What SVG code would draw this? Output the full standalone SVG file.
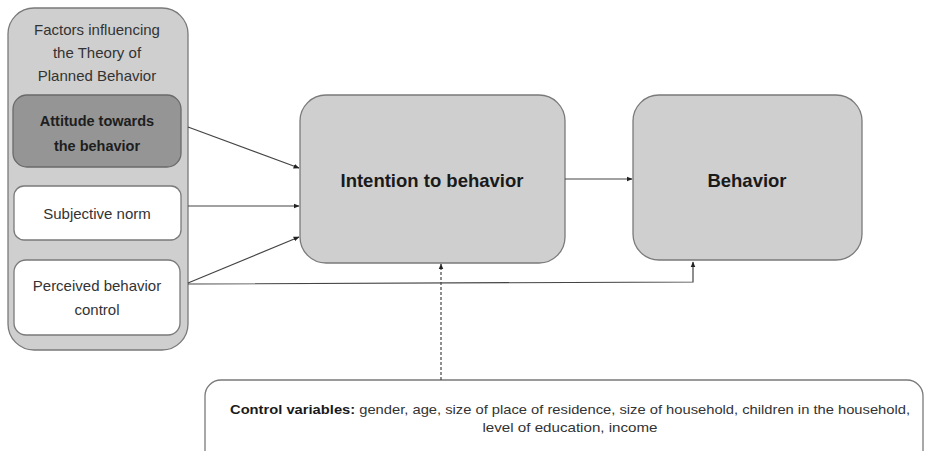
<svg xmlns="http://www.w3.org/2000/svg" width="925" height="451" viewBox="0 0 925 451">
<style>
text{font-family:"Liberation Sans",Arial,sans-serif;fill:#222;text-anchor:middle}
.lbl{font-size:15px;fill:#333}
.big{font-size:18.5px;font-weight:bold;fill:#1a1a1a}
.gray{fill:#cfcfcf;stroke:#7a7a7a;stroke-width:1.3}
.white{fill:#fff;stroke:#7a7a7a;stroke-width:1.3}
.conn{stroke:#444;stroke-width:1.2;fill:none}
.ctl{font-size:13px;fill:#333}
</style>
<defs>
<marker id="ah" viewBox="0 0 10 10" refX="9" refY="5" markerWidth="6" markerHeight="6" orient="auto" markerUnits="userSpaceOnUse">
<path d="M0,1 L10,5 L0,9 z" fill="#222"/>
</marker>
</defs>
<rect width="925" height="451" fill="#fff"/>
<g id="factors">
<rect class="gray" x="8" y="8" width="180" height="342" rx="26"/>
<text class="lbl" x="97" y="35">Factors influencing</text>
<text class="lbl" x="97" y="58">the Theory of</text>
<text class="lbl" x="97" y="81">Planned Behavior</text>
</g>
<g id="attitude">
<rect x="13" y="95" width="168" height="72" rx="14" fill="#959595" stroke="#6a6a6a" stroke-width="1.3"/>
<text class="lbl" x="97" y="126" style="font-weight:bold;fill:#1e1e1e;font-size:14.5px">Attitude towards</text>
<text class="lbl" x="97" y="151" style="font-weight:bold;fill:#1e1e1e;font-size:14.5px">the behavior</text>
</g>
<g id="subjective">
<rect class="white" x="14" y="186" width="167" height="54" rx="10"/>
<text class="lbl" x="97" y="219">Subjective norm</text>
</g>
<g id="perceived">
<rect class="white" x="14" y="260" width="166" height="75" rx="12"/>
<text class="lbl" x="97" y="291">Perceived behavior</text>
<text class="lbl" x="97" y="315">control</text>
</g>
<g id="intention">
<rect class="gray" x="300" y="95" width="265" height="168" rx="26"/>
<text class="big" x="432" y="187">Intention to behavior</text>
</g>
<g id="behavior">
<rect class="gray" x="633" y="95" width="229" height="165" rx="26"/>
<text class="big" x="747" y="187">Behavior</text>
</g>
<g id="control">
<rect class="white" x="205" y="380" width="718" height="100" rx="16"/>
<text class="ctl" x="570" y="414" textLength="680" lengthAdjust="spacingAndGlyphs"><tspan style="font-weight:bold;fill:#1a1a1a">Control variables:</tspan> gender, age, size of place of residence, size of household, children in the household,</text>
<text class="ctl" x="570" y="432" textLength="175" lengthAdjust="spacingAndGlyphs">level of education, income</text>
</g>
<g id="connectors">
<line class="conn" x1="188" y1="127" x2="299" y2="168" marker-end="url(#ah)"/>
<line class="conn" x1="188" y1="206" x2="299" y2="206" marker-end="url(#ah)"/>
<line class="conn" x1="188" y1="283" x2="299" y2="237" marker-end="url(#ah)"/>
<polyline class="conn" points="188,284 693,282 693,262" marker-end="url(#ah)"/>
<line class="conn" x1="565" y1="179" x2="632" y2="179" marker-end="url(#ah)"/>
<line class="conn" x1="441" y1="380" x2="441" y2="264" stroke-dasharray="3,2" marker-end="url(#ah)"/>
</g>
</svg>
